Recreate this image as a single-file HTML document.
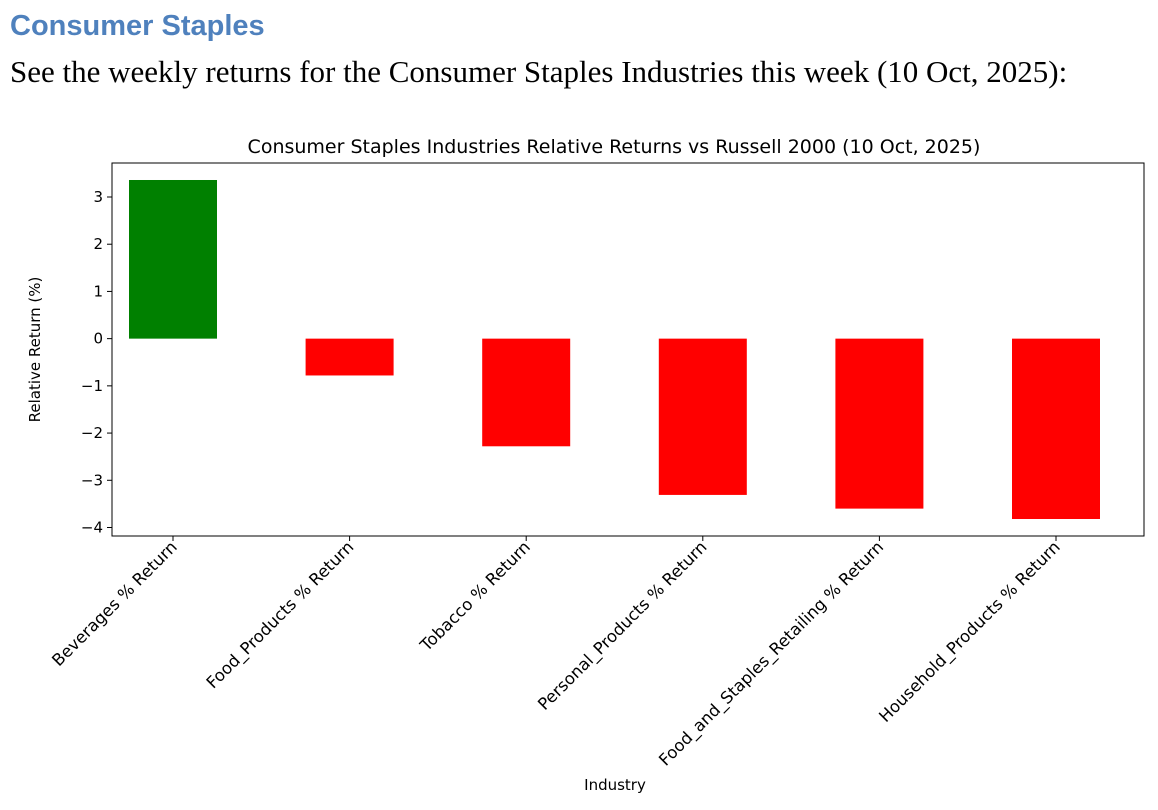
<!DOCTYPE html>
<html><head><meta charset="utf-8">
<style>
body{margin:0;width:1158px;height:810px;background:#fff;position:relative;overflow:hidden;font-family:"DejaVu Sans","Liberation Sans",sans-serif}
#h1{position:absolute;left:10px;top:10px;font:bold 29px "Liberation Sans",sans-serif;color:#4f81bd;margin:0}
#sub{position:absolute;left:10px;top:54px;font:31px "Liberation Serif",serif;color:#000;margin:0;white-space:nowrap}
svg{position:absolute;left:0;top:0}
</style></head><body>
<h1 id="h1">Consumer Staples</h1>
<p id="sub">See the weekly returns for the Consumer Staples Industries this week (10 Oct, 2025):</p>
<svg id="chart" width="1158" height="810"></svg>
<script>
const categories=["Beverages % Return","Food_Products % Return","Tobacco % Return","Personal_Products % Return","Food_and_Staples_Retailing % Return","Household_Products % Return"];
const values=[3.36,-0.78,-2.28,-3.31,-3.60,-3.82];
const yTicks=[3,2,1,0,-1,-2,-3,-4];
const NS="http://www.w3.org/2000/svg";
const svg=document.getElementById('chart');
const L=112,R=1144,T=163,B=536;
const yMin=-4.18,yMax=3.72;
function y(v){return T+(yMax-v)/(yMax-yMin)*(B-T);}
function x(i){return 173+i*176.6;}
const bw=88;
const F='"DejaVu Sans","Liberation Sans",sans-serif';
function el(t,a,txt){const e=document.createElementNS(NS,t);for(const k in a)e.setAttribute(k,a[k]);if(txt!==undefined)e.textContent=txt;svg.appendChild(e);return e;}
values.forEach((v,i)=>{
 const r=el('rect',{x:x(i)-bw/2,y:Math.min(y(v),y(0)),width:bw,height:Math.abs(y(v)-y(0)),fill:v>=0?'#008000':'#ff0000'});
 
 
});
const frame=el('rect',{x:L,y:T,width:R-L,height:B-T,fill:'none',stroke:'#000','stroke-width':1});


yTicks.forEach(t=>{
 el('line',{x1:L-5,x2:L,y1:y(t),y2:y(t),stroke:'#000'});
 const tx=el('text',{x:L-9,y:y(t)+5,'text-anchor':'end','font-size':15,'font-family':F,fill:'#000'},t<0?'\u2212'+(-t):String(t));
 
 
});
categories.forEach((c,i)=>{
 el('line',{x1:x(i),x2:x(i),y1:B,y2:B+5,stroke:'#000'});
 const tx=el('text',{transform:`translate(${x(i)+5},${B+12}) rotate(-45)`,'text-anchor':'end','font-size':16.5,'font-family':F,fill:'#000'},c);
 
 
});
const title=el('text',{x:(L+R)/2-14,y:153,'text-anchor':'middle','font-size':19,'font-family':F,fill:'#000'},'Consumer Staples Industries Relative Returns vs Russell 2000 (10 Oct, 2025)');


const yl=el('text',{transform:`translate(40,${(T+B)/2}) rotate(-90)`,'text-anchor':'middle','font-size':15,'font-family':F,fill:'#000'},'Relative Return (%)');


const xl=el('text',{x:615,y:790,'text-anchor':'middle','font-size':15,'font-family':F,fill:'#000'},'Industry');


</script>
</body></html>
